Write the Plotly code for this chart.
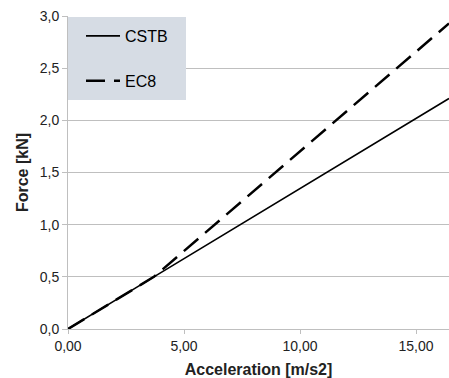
import plotly.graph_objects as go

accel = [0.0, 3.7, 16.42]
cstb = [0.0, 0.50, 2.21]
ec8 = [0.0, 0.50, 2.93]

x_ticks = [0, 5, 10, 15]
y_ticks = [0, 0.5, 1.0, 1.5, 2.0, 2.5, 3.0]

FONT = "Liberation Sans, Arial, sans-serif"

W, H = 449, 378
ML, MR, MT, MB = 68, 0, 16, 49
PW = W - ML - MR
PH = H - MT - MB

fig = go.Figure()
fig.add_trace(go.Scatter(x=accel, y=cstb, mode="lines", name="CSTB",
                         line=dict(color="black", width=1.6),
                         legendgroup="a"))
fig.add_trace(go.Scatter(x=accel, y=ec8, mode="lines", name="EC8",
                         line=dict(color="black", width=2.5, dash="19px,9px"),
                         legendgroup="b"))

# legend background box
fig.add_shape(type="rect", xref="paper", yref="paper", layer="above",
              x0=0, x1=118 / PW, y0=1 - 84 / PH, y1=1 - 1 / PH,
              fillcolor="#D6DCE4", line=dict(width=0))

fig.update_layout(
    width=W, height=H,
    margin=dict(l=ML, r=MR, t=MT, b=MB, autoexpand=False),
    paper_bgcolor="white", plot_bgcolor="white",
    separators=", ",
    font=dict(family=FONT, size=13, color="#222222"),
    showlegend=True,
    legend=dict(x=13 / PW, y=1 - 3 / PH, xanchor="left", yanchor="top",
                bgcolor="rgba(0,0,0,0)", borderwidth=0,
                font=dict(family=FONT, size=16, color="black"),
                tracegroupgap=21, traceorder="grouped",
                itemwidth=34),
    xaxis=dict(range=[0, 16.42], tickvals=x_ticks, tickformat=".2f",
               automargin=False,
               showgrid=False, zeroline=False,
               showline=True, linecolor="#BFBFBF", linewidth=1,
               ticks="outside", ticklen=4, tickcolor="#BFBFBF",
               tickfont=dict(size=14, color="#222222"),
               title=dict(text="<b>Acceleration [m/s2]</b>", standoff=12,
                          font=dict(size=16, color="#222222"))),
    yaxis=dict(range=[0, 3.001], tickvals=y_ticks, tickformat=".1f",
               automargin=False,
               showgrid=True, gridcolor="#BFBFBF", gridwidth=1,
               zeroline=False,
               showline=True, linecolor="#BFBFBF", linewidth=1,
               ticks="outside", ticklen=5, tickcolor="#BFBFBF",
               tickfont=dict(size=14, color="#222222"),
               title=dict(text="<b>Force [kN]</b>", standoff=7,
                          font=dict(size=16, color="#222222"))),
)

fig.write_html(
    "out.html",
    config={"displayModeBar": False},
    post_script="document.body.style.margin='0';document.body.style.overflow='hidden';",
)
